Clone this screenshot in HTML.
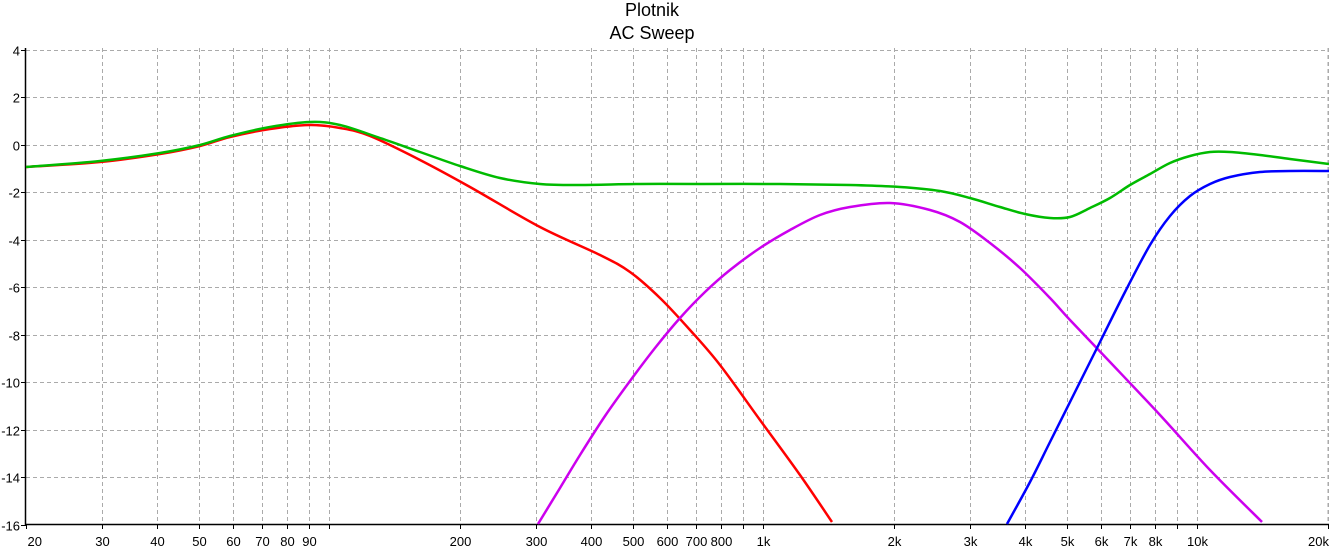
<!DOCTYPE html>
<html><head><meta charset="utf-8"><style>
html,body{margin:0;padding:0;background:#fff;width:1329px;height:550px;overflow:hidden}
svg{display:block;font-family:"Liberation Sans",sans-serif}
</style></head><body>
<svg id="s" width="1329" height="550" xmlns="http://www.w3.org/2000/svg">
<text x="652" y="16" font-size="18" text-anchor="middle">Plotnik</text>
<text x="652" y="39" font-size="18" text-anchor="middle">AC Sweep</text>
<g id="grid" stroke="#aaa" stroke-dasharray="4,3" stroke-width="1"></g>
<g id="lab" font-size="13" fill="#000"></g>
<line x1="25.5" y1="48" x2="25.5" y2="525" stroke="#000" stroke-width="1.5"/>
<line x1="25" y1="524.5" x2="1329" y2="524.5" stroke="#000" stroke-width="1.5"/>
<g id="curves" fill="none" stroke-width="2.5" stroke-linejoin="round"></g>
</svg>
<script>
var g=document.getElementById('grid'),l=document.getElementById('lab'),ns='http://www.w3.org/2000/svg';
function px(f){return 26+434*Math.log10(f/20);}
function ln(x1,y1,x2,y2){var e=document.createElementNS(ns,'line');e.setAttribute('x1',x1);e.setAttribute('y1',y1);e.setAttribute('x2',x2);e.setAttribute('y2',y2);g.appendChild(e);}
function tx(x,y,t,a){var e=document.createElementNS(ns,'text');e.setAttribute('x',x);e.setAttribute('y',y);e.setAttribute('text-anchor',a);e.textContent=t;l.appendChild(e);}
var labs={20:'20',30:'30',40:'40',50:'50',60:'60',70:'70',80:'80',90:'90',200:'200',300:'300',400:'400',500:'500',600:'600',700:'700',800:'800',1000:'1k',2000:'2k',3000:'3k',4000:'4k',5000:'5k',6000:'6k',7000:'7k',8000:'8k',10000:'10k'};
[10,100,1000,10000].forEach(function(d){for(var m=1;m<10;m++){var f=d*m;if(f<20||f>20000)continue;var x=Math.round(px(f))+0.5;if(f>20)ln(x,48,x,524);var t=document.createElementNS(ns,'line');t.setAttribute('x1',x);t.setAttribute('x2',x);t.setAttribute('y1',524);t.setAttribute('y2',529);t.setAttribute('stroke','#000');l.appendChild(t);if(labs[f])tx(f==20?x+1:x,546,labs[f],f==20?'start':'middle');}});
var x=1328;ln(x,48,x,524);tx(1329,546,'20k','end');
for(var v=4;v>=-16;v-=2){var y=Math.round(49.5+(4-v)*23.75)+0.5;if(v>-16)ln(26,y,1329,y);var t=document.createElementNS(ns,'line');t.setAttribute('x1',21);t.setAttribute('x2',26);t.setAttribute('y1',y);t.setAttribute('y2',y);t.setAttribute('stroke','#000');l.appendChild(t);tx(20,y+5,String(v),'end');}
function curve(col,s){var p=s.trim().split(/\s+/).map(function(q){return q.split(',').map(Number);});
var d='M'+p[0][0]+','+p[0][1];for(var i=0;i<p.length-1;i++){var p0=p[i-1]||p[i],p1=p[i],p2=p[i+1],p3=p[i+2]||p2;
d+=' C'+(p1[0]+(p2[0]-p0[0])/6)+','+(p1[1]+(p2[1]-p0[1])/6)+' '+(p2[0]-(p3[0]-p1[0])/6)+','+(p2[1]-(p3[1]-p1[1])/6)+' '+p2[0]+','+p2[1];}
var e=document.createElementNS(ns,'path');e.setAttribute('d',d);e.setAttribute('stroke',col);document.getElementById('curves').appendChild(e);}
curve('#ff0000','26,167 100,162 160,154 200,146 230,137 270,129 310,125 340,128 370,136 420,160 470,187 540,227 600,255 630,272 660,298 690,330 720,365 760,420 800,475 832,522');
curve('#cc00ee','538,524 560,488 580,455 605,416 630,381 655,348 680,318 705,292 730,270 760,248 790,230 820,215 850,207 890,203 930,210 960,222 990,243 1020,268 1050,298 1070,320 1110,362 1160,415 1210,470 1262,522');
curve('#0000ff','1007,524 1030,482 1050,442 1075,392 1100,342 1125,292 1150,245 1170,216 1190,196 1210,184 1230,177 1260,172 1290,171 1329,171');
curve('#00bb00','26,167 100,161 160,153 200,145 230,136 270,127 310,122 340,125 380,138 420,152 460,166 500,178 540,184 580,185 640,184 700,184 780,184 850,185 900,187 940,191 970,198 1000,207 1025,214 1050,218 1070,217 1090,208 1110,198 1130,185 1150,174 1170,163 1190,156 1210,152 1230,152 1260,155 1290,159 1329,164');
</script>
</body></html>
